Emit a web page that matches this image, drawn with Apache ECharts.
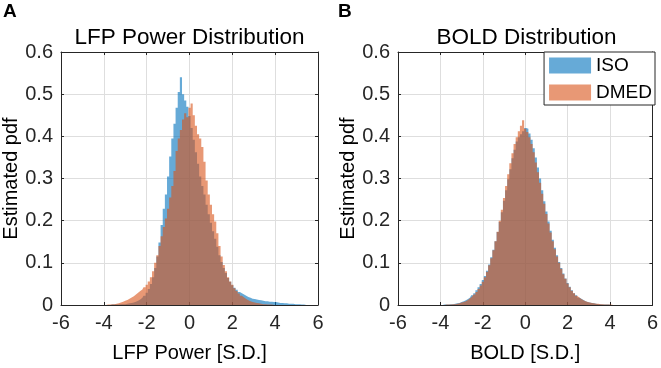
<!DOCTYPE html>
<html>
<head>
<meta charset="utf-8">
<script src="https://cdn.jsdelivr.net/npm/echarts@6/dist/echarts.min.js"></script>
<style>
  html, body { margin: 0; padding: 0; background: #fff; }
  #chart { width: 661px; height: 368px; }
</style>
</head>
<body>
<div id="chart"></div>
<script>
// histogram bins: centres from -4.0 to 5.5, width 0.1
const binStart = -4.0
const binWidth = 0.1
const binCount = 96

// panel A: LFP power (estimated pdf per bin)
const lfpIso = [
  0, 0, 0, 0, 0.001, 0.001, 0.001, 0.001, 0.002, 0.002,
  0.002, 0.003, 0.004, 0.005, 0.006, 0.008, 0.010, 0.013, 0.017, 0.022,
  0.029, 0.038, 0.050, 0.066, 0.088, 0.115, 0.148, 0.190, 0.228, 0.262,
  0.305, 0.352, 0.395, 0.430, 0.468, 0.505, 0.540, 0.500, 0.485, 0.470,
  0.448, 0.420, 0.392, 0.362, 0.335, 0.305, 0.282, 0.262, 0.238, 0.215,
  0.195, 0.175, 0.157, 0.138, 0.118, 0.102, 0.088, 0.076, 0.064, 0.055,
  0.047, 0.041, 0.036, 0.031, 0.028, 0.025, 0.022, 0.019, 0.017, 0.015,
  0.014, 0.013, 0.012, 0.011, 0.010, 0.009, 0.009, 0.008, 0.008, 0.007,
  0.007, 0.006, 0.005, 0.005, 0.004, 0.004, 0.003, 0.003, 0.003, 0.002,
  0.002, 0.002, 0.001, 0.001, 0.001, 0.001,
]
const lfpDmed = [
  0, 0, 0.001, 0.001, 0.002, 0.002, 0.003, 0.004, 0.006, 0.008,
  0.010, 0.012, 0.015, 0.018, 0.021, 0.025, 0.029, 0.033, 0.037, 0.042,
  0.048, 0.056, 0.066, 0.080, 0.100, 0.118, 0.140, 0.163, 0.185, 0.205,
  0.228, 0.255, 0.282, 0.318, 0.365, 0.395, 0.415, 0.440, 0.455, 0.445,
  0.468, 0.478, 0.450, 0.425, 0.405, 0.395, 0.375, 0.340, 0.295, 0.262,
  0.238, 0.215, 0.198, 0.170, 0.140, 0.115, 0.095, 0.080, 0.066, 0.056,
  0.048, 0.040, 0.033, 0.027, 0.022, 0.018, 0.014, 0.011, 0.009, 0.007,
  0.006, 0.005, 0.004, 0.003, 0.002, 0.002, 0.001, 0.001, 0.001, 0,
  0, 0, 0, 0, 0, 0, 0, 0, 0, 0,
  0, 0, 0, 0, 0, 0,
]

// panel B: BOLD
const boldIso = [
  0, 0, 0.001, 0.001, 0.001, 0.002, 0.002, 0.003, 0.004, 0.005,
  0.007, 0.009, 0.011, 0.014, 0.018, 0.023, 0.028, 0.035, 0.042, 0.050,
  0.059, 0.069, 0.081, 0.096, 0.113, 0.131, 0.151, 0.173, 0.197, 0.220,
  0.247, 0.272, 0.298, 0.322, 0.348, 0.368, 0.388, 0.398, 0.405, 0.412,
  0.420, 0.418, 0.407, 0.392, 0.372, 0.350, 0.326, 0.300, 0.272, 0.246,
  0.222, 0.198, 0.176, 0.155, 0.136, 0.118, 0.102, 0.088, 0.075, 0.063,
  0.052, 0.043, 0.035, 0.028, 0.023, 0.018, 0.015, 0.012, 0.009, 0.007,
  0.006, 0.005, 0.004, 0.003, 0.002, 0.002, 0.001, 0.001, 0.001, 0.001,
  0, 0, 0, 0, 0, 0, 0, 0, 0, 0,
  0, 0, 0, 0, 0, 0,
]
const boldDmed = [
  0, 0, 0, 0.001, 0.001, 0.001, 0.002, 0.002, 0.003, 0.004,
  0.006, 0.007, 0.009, 0.012, 0.016, 0.020, 0.025, 0.031, 0.038, 0.046,
  0.055, 0.066, 0.079, 0.094, 0.111, 0.130, 0.151, 0.174, 0.200, 0.226,
  0.254, 0.282, 0.310, 0.336, 0.360, 0.382, 0.398, 0.412, 0.425, 0.438,
  0.418, 0.410, 0.398, 0.382, 0.362, 0.338, 0.315, 0.290, 0.264, 0.240,
  0.216, 0.193, 0.172, 0.151, 0.132, 0.115, 0.100, 0.086, 0.073, 0.062,
  0.051, 0.042, 0.034, 0.028, 0.022, 0.018, 0.014, 0.011, 0.009, 0.007,
  0.006, 0.005, 0.004, 0.003, 0.003, 0.002, 0.002, 0.001, 0.001, 0.001,
  0.001, 0, 0, 0, 0, 0, 0, 0, 0, 0,
  0, 0, 0, 0, 0, 0,
]

const xTicks = { min: -6, max: 6, interval: 2 }
const yTicks = { min: 0, max: 0.6, interval: 0.1 }

const panelTitles = ['LFP Power Distribution', 'BOLD Distribution']
const xNames = ['LFP Power [S.D.]', 'BOLD [S.D.]']
const yName = 'Estimated pdf'

const FONT = '"Liberation Sans", Arial, Helvetica, sans-serif'
const AXIS = '#262626'
const GRIDLINE = '#dedede'
const BLUE = 'rgb(0,114,189)'
const ORANGE = 'rgb(217,83,25)'
const ALPHA = 0.6

const binCenters = Array.from({ length: binCount }, (_, i) =>
  Math.round((binStart + i * binWidth) * 10) / 10)

const toPoints = (values) => values.map((v, i) => [binCenters[i], v])

const grids = [
  { left: 61, top: 52, width: 257, height: 256 },
  { left: 398, top: 52, width: 257, height: 256 },
]

function axesFor(gridIndex) {
  const line = { show: true, onZero: false, lineStyle: { color: AXIS, width: 1 } }
  const tick = { show: true, inside: true, length: 3, lineStyle: { color: AXIS } }
  const label = { fontSize: 20, color: AXIS, fontFamily: FONT }
  return {
    x: [
      {
        gridIndex, type: 'value', position: 'bottom', ...xTicks,
        name: xNames[gridIndex], nameLocation: 'middle', nameGap: 38,
        nameTextStyle: { fontSize: 20, color: '#000', fontFamily: FONT },
        axisLine: line, axisTick: tick,
        axisLabel: { ...label, margin: 8 },
        splitLine: { show: true, lineStyle: { color: GRIDLINE } },
      },
      {
        gridIndex, type: 'value', position: 'top', ...xTicks,
        axisLine: line, axisTick: tick,
        axisLabel: { show: false }, splitLine: { show: false },
      },
    ],
    y: [
      {
        gridIndex, type: 'value', position: 'left', ...yTicks,
        name: yName, nameLocation: 'middle', nameGap: 40,
        nameTextStyle: { fontSize: 20, color: '#000', fontFamily: FONT },
        axisLine: line, axisTick: tick,
        axisLabel: { ...label, margin: 8 },
        splitLine: { show: true, lineStyle: { color: GRIDLINE } },
      },
      {
        gridIndex, type: 'value', position: 'right', ...yTicks,
        axisLine: line, axisTick: tick,
        axisLabel: { show: false }, splitLine: { show: false },
      },
    ],
  }
}

const axesA = axesFor(0)
const axesB = axesFor(1)

function histSeries(name, color, values, xAxisIndex, yAxisIndex) {
  return {
    name,
    type: 'line',
    xAxisIndex,
    yAxisIndex,
    step: 'middle',
    symbol: 'none',
    silent: true,
    data: toPoints(values),
    itemStyle: { color },
    lineStyle: { width: 0, opacity: 0 },
    areaStyle: { color, opacity: ALPHA },
  }
}

const chart = echarts.init(document.getElementById('chart'), null, { renderer: 'canvas' })

const titleText = { fontSize: 22.5, fontWeight: 'normal', color: '#000', fontFamily: FONT }
const letterText = { fontSize: 19, fontWeight: 'bold', color: '#000', fontFamily: FONT }

chart.setOption({
  animation: false,
  backgroundColor: '#fff',
  textStyle: { fontFamily: FONT },
  title: [
    { text: panelTitles[0], left: 189.5, top: 26, textAlign: 'center', padding: 0, textStyle: titleText },
    { text: panelTitles[1], left: 526.5, top: 26, textAlign: 'center', padding: 0, textStyle: titleText },
    { text: 'A', left: 3, top: 2, padding: 0, textStyle: letterText },
    { text: 'B', left: 338, top: 2, padding: 0, textStyle: letterText },
  ],
  legend: {
    orient: 'vertical',
    right: 6,
    top: 52,
    backgroundColor: '#fff',
    borderColor: AXIS,
    borderWidth: 1,
    borderRadius: 0,
    padding: [4, 3, 3, 5],
    itemGap: 8,
    itemWidth: 42,
    itemHeight: 16,
    selectedMode: false,
    textStyle: { fontSize: 19, lineHeight: 16, color: '#000', fontFamily: FONT },
    data: [
      { name: 'ISO', icon: 'rect', itemStyle: { color: BLUE, opacity: ALPHA, borderWidth: 0 } },
      { name: 'DMED', icon: 'rect', itemStyle: { color: ORANGE, opacity: ALPHA, borderWidth: 0 } },
    ],
  },
  grid: grids,
  xAxis: [...axesA.x, ...axesB.x],
  yAxis: [...axesA.y, ...axesB.y],
  series: [
    histSeries('ISO', BLUE, lfpIso, 0, 0),
    histSeries('DMED', ORANGE, lfpDmed, 0, 0),
    histSeries('ISO', BLUE, boldIso, 2, 2),
    histSeries('DMED', ORANGE, boldDmed, 2, 2),
  ],
})
</script>
</body>
</html>
